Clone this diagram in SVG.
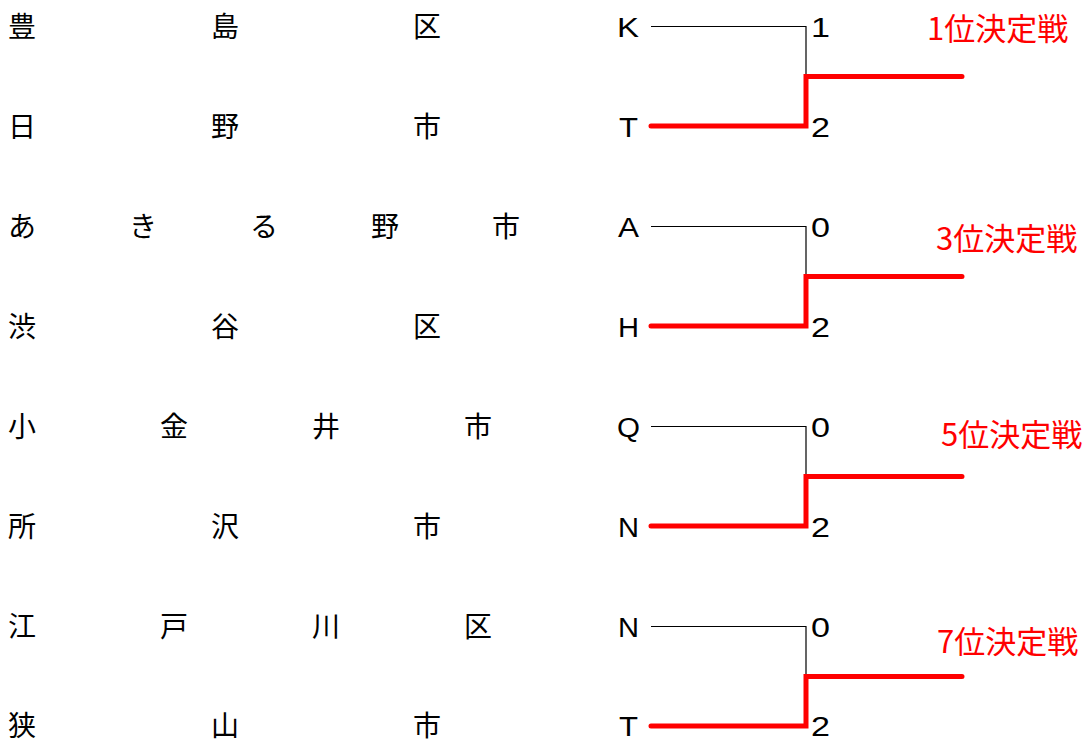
<svg xmlns="http://www.w3.org/2000/svg" width="1087" height="742" viewBox="0 0 1087 742">
<style>
.n{font-family:"Noto Sans CJK JP","Noto Sans CJK SC",sans-serif;font-size:28px;fill:#000}
.l{font-family:"Liberation Sans",Arial,sans-serif;font-size:27px;fill:#000}
.r{font-family:"Noto Sans CJK JP","Noto Sans CJK SC",sans-serif;font-size:31px;fill:#ff0000}
.b{fill:none;stroke:#000;stroke-width:1.2}
.w{fill:none;stroke:#ff0000;stroke-width:5;stroke-linecap:round;stroke-linejoin:miter}
</style>
<rect width="1087" height="742" fill="#fff"/>
<g id="team1"><text class="n" y="37"><tspan x="8">豊</tspan><tspan x="211">島</tspan><tspan x="413">区</tspan></text><text class="l" x="617" y="37" textLength="22" lengthAdjust="spacingAndGlyphs">K</text><text class="l" x="811" y="37" textLength="19" lengthAdjust="spacingAndGlyphs">1</text></g>
<g id="team2"><text class="n" y="137"><tspan x="8">日</tspan><tspan x="211">野</tspan><tspan x="413">市</tspan></text><text class="l" x="619" y="137" textLength="19" lengthAdjust="spacingAndGlyphs">T</text><text class="l" x="811" y="137" textLength="19" lengthAdjust="spacingAndGlyphs">2</text></g>
<g id="team3"><text class="n" y="237"><tspan x="8">あ</tspan><tspan x="129">き</tspan><tspan x="250">る</tspan><tspan x="371">野</tspan><tspan x="492">市</tspan></text><text class="l" x="618" y="237" textLength="21" lengthAdjust="spacingAndGlyphs">A</text><text class="l" x="811" y="237" textLength="19" lengthAdjust="spacingAndGlyphs">0</text></g>
<g id="team4"><text class="n" y="337"><tspan x="8">渋</tspan><tspan x="211">谷</tspan><tspan x="413">区</tspan></text><text class="l" x="618" y="337" textLength="21" lengthAdjust="spacingAndGlyphs">H</text><text class="l" x="811" y="337" textLength="19" lengthAdjust="spacingAndGlyphs">2</text></g>
<g id="team5"><text class="n" y="437"><tspan x="8">小</tspan><tspan x="160">金</tspan><tspan x="312">井</tspan><tspan x="464">市</tspan></text><text class="l" x="617" y="437" textLength="23" lengthAdjust="spacingAndGlyphs">Q</text><text class="l" x="811" y="437" textLength="19" lengthAdjust="spacingAndGlyphs">0</text></g>
<g id="team6"><text class="n" y="537"><tspan x="8">所</tspan><tspan x="211">沢</tspan><tspan x="413">市</tspan></text><text class="l" x="618" y="537" textLength="21" lengthAdjust="spacingAndGlyphs">N</text><text class="l" x="811" y="537" textLength="19" lengthAdjust="spacingAndGlyphs">2</text></g>
<g id="team7"><text class="n" y="637"><tspan x="8">江</tspan><tspan x="160">戸</tspan><tspan x="312">川</tspan><tspan x="464">区</tspan></text><text class="l" x="618" y="637" textLength="21" lengthAdjust="spacingAndGlyphs">N</text><text class="l" x="811" y="637" textLength="19" lengthAdjust="spacingAndGlyphs">0</text></g>
<g id="team8"><text class="n" y="736"><tspan x="8">狭</tspan><tspan x="211">山</tspan><tspan x="413">市</tspan></text><text class="l" x="619" y="736" textLength="19" lengthAdjust="spacingAndGlyphs">T</text><text class="l" x="811" y="736" textLength="19" lengthAdjust="spacingAndGlyphs">2</text></g>
<g id="label1"><text class="r" x="927" y="40">1位決定戦</text></g>
<g id="label3"><text class="r" x="936" y="250">3位決定戦</text></g>
<g id="label5"><text class="r" x="941" y="446">5位決定戦</text></g>
<g id="label7"><text class="r" x="937" y="653">7位決定戦</text></g>
<g id="connectors">
<path class="b" d="M651 26.5H806V77"/>
<path class="w" d="M651 126H806V76.5H962"/>
<path class="b" d="M651 226.5H806V277"/>
<path class="w" d="M651 326H806V276.5H962"/>
<path class="b" d="M651 426.5H806V477"/>
<path class="w" d="M651 526H806V476.5H962"/>
<path class="b" d="M651 626.5H806V677"/>
<path class="w" d="M651 726H806V676.5H962"/>
</g>
</svg>
